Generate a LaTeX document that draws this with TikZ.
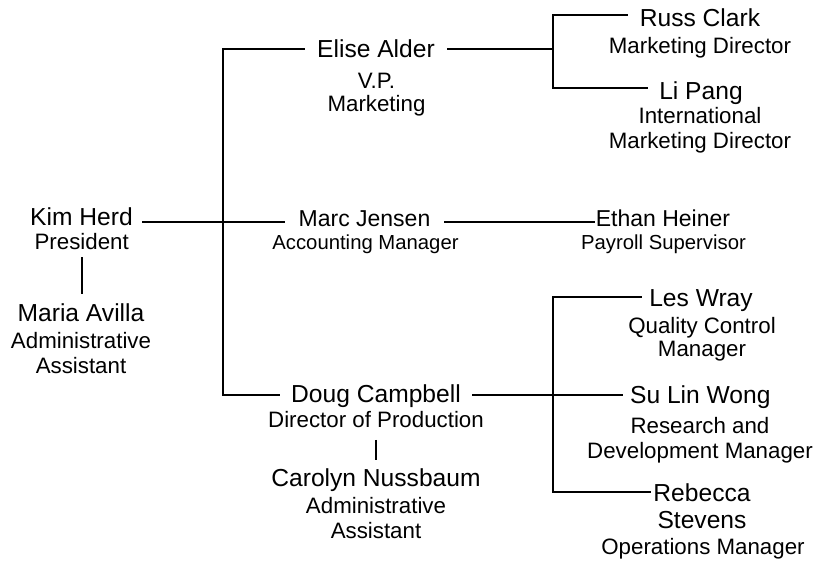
\documentclass[tikz,border=0pt]{standalone}
\usepackage{fontspec}
\setmainfont{Liberation Sans}
\begin{document}
\begin{tikzpicture}[x=1pt,y=-1pt,
  person/.style={font=\fontsize{24.6}{28}\selectfont, inner ysep=0pt, inner xsep=12pt, anchor=base},
  role/.style={font=\fontsize{22.3}{24.5}\selectfont, align=center, inner sep=0pt, anchor=north},
  smallperson/.style={person, font=\fontsize{23}{28}\selectfont},
  smallrole/.style={role, font=\fontsize{20.3}{24}\selectfont},
  link/.style={draw=black, line width=2pt, line cap=rect, line join=miter}]
\useasboundingbox (0,0) rectangle (820,565);

% people (placed on their baselines)
\node[person, inner xsep=10pt]   (kim)     at (81.5,225)   {Kim Herd};
\node[person]                    (maria)   at (81,321)     {Maria Avilla};
\node[person, inner xsep=13.5pt] (elise)   at (376,57.3)   {Elise Alder};
\node[smallperson, inner xsep=14.5pt] (marc) at (364.5,226) {Marc Jensen};
\node[person]                    (doug)    at (376,402.5)  {Doug Campbell};
\node[person]                    (carolyn) at (376,486.7)  {Carolyn Nussbaum};
\node[person, inner xsep=12.5pt] (russ)    at (700,26)     {Russ Clark};
\node[person]                    (li)      at (701,99)     {Li Pang};
\node[smallperson, inner xsep=2pt] (ethan) at (663,226)    {Ethan Heiner};
\node[person, inner xsep=8.3pt]  (les)     at (701,306.7)  {Les Wray};
\node[person, inner xsep=8pt]    (su)      at (700.3,403.5) {Su Lin Wong};
\node[person, inner xsep=3pt]    (reb)     at (702,501.7)  {Rebecca};
\node[person]                    (rebS)    at (702,528)    {Stevens};

% job titles
\node[role] (kimT)     at (81.7,233.1)  {President};
\node[role, font=\fontsize{22.3}{25.5}\selectfont] (mariaT) at (81,332.1) {Administrative\\Assistant};
\node[role, font=\fontsize{22.3}{23.4}\selectfont] (eliseT) at (376.5,72.6) {V.P.\\Marketing};
\node[smallrole] (marcT)  at (365.5,235) {Accounting Manager};
\node[role] (dougT)    at (376,411.1)   {Director of Production};
\node[role, font=\fontsize{22.3}{25}\selectfont] (carolynT) at (376,497.6) {Administrative\\Assistant};
\node[role] (russT)    at (700,37.4)    {Marketing Director};
\node[role] (liT)      at (700,107.2)   {International\\Marketing Director};
\node[smallrole] (ethanT) at (663.5,235) {Payroll Supervisor};
\node[role, font=\fontsize{22.3}{23.5}\selectfont] (lesT) at (702,317) {Quality Control\\Manager};
\node[role, font=\fontsize{22.3}{25}\selectfont] (suT) at (700,417.1) {Research and\\Development Manager};
\node[role] (rebT)     at (703,538.1)   {Operations Manager};

% junction points of the connectors
\coordinate (trunkTop) at (223,48.5);
\coordinate (trunkBot) at (223,395);
\coordinate (mainRow)  at (223,222);
\coordinate (mktJoin)  at (553,48.5);
\coordinate (mktTop)   at (553,14.5);
\coordinate (mktBot)   at (553,88);
\coordinate (prodJoin) at (553,395);
\coordinate (prodTop)  at (553,296.5);
\coordinate (prodBot)  at (553,491.7);

% president to vice presidents
\draw[link] (mainRow -| kim.east) -- (mainRow -| marc.west);
\draw[link] (trunkTop -| elise.west) -- (trunkTop) -- (trunkBot) -- (trunkBot -| doug.west);

% marketing
\draw[link] (mktJoin -| elise.east) -- (mktJoin);
\draw[link] (mktTop -| russ.west) -- (mktTop) -- (mktBot) -- (mktBot -| li.west);

% accounting
\draw[link] (mainRow -| marc.east) -- (mainRow -| ethan.west);

% production
\draw[link] (prodJoin -| doug.east) -- (prodJoin -| su.west);
\draw[link] (prodTop -| les.west) -- (prodTop) -- (prodBot) -- (prodBot -| reb.west);

% assistants
\draw[link, line cap=butt, shorten <=7.5pt, shorten >=9pt] (kimT.south) -- (kimT.south |- maria.north);
\draw[link, line cap=butt, shorten <=12pt, shorten >=9pt] (dougT.south) -- (dougT.south |- carolyn.north);
\end{tikzpicture}
\end{document}
